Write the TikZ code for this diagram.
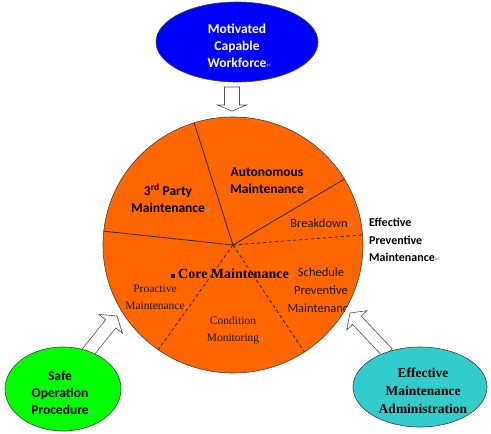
\documentclass[tikz,border=0pt]{standalone}
\usepackage{fontspec}
\setmainfont{Carlito}
\newfontfamily\serifF{Liberation Serif}
\newfontfamily\serifB{Liberation Serif}[UprightFont={* Bold}]
\newfontfamily\dvs{DejaVu Sans}
\usetikzlibrary{calc,shapes.geometric}
\definecolor{pieorange}{RGB}{255,102,0}
\definecolor{wfblue}{RGB}{0,0,255}
\definecolor{sopgreen}{RGB}{0,255,0}
\definecolor{emateal}{RGB}{51,204,204}
\definecolor{pmark}{RGB}{150,160,190}
\newcommand{\pmk}{\rlap{{\dvs\fontsize{6}{6}\selectfont\textcolor{pmark}{↵}}}}
\begin{document}
\begin{tikzpicture}[x=1pt,y=-1pt,
  shapeline/.style={draw=black!75, line width=0.6pt},
  spoke/.style={draw=black!85, line width=0.8pt},
  dspoke/.style={spoke, dash pattern=on 3.5pt off 2.5pt},
  blockarrow/.style={draw=black!70, fill=white, line width=0.6pt, line join=miter},
  cbtext/.style={font=\bfseries\fontsize{13.5}{17}\selectfont, align=center, inner sep=0pt},
  cbsmall/.style={font=\bfseries\fontsize{12}{17.5}\selectfont, align=left, inner sep=0pt},
  crtext/.style={font=\fontsize{12.5}{18}\selectfont, align=center, inner sep=0pt, text=black!90},
  tbtext/.style={font=\serifB\fontsize{13.5}{18}\selectfont, align=center, inner sep=0pt},
  trtext/.style={font=\serifF\fontsize{11.5}{17}\selectfont, align=center, inner sep=0pt, text=black!90},
]
\useasboundingbox (0,0) rectangle (491,434);
\fill[white] (0,0) rectangle (491,434);

% main pie
\node[ellipse, shapeline, fill=pieorange, minimum width=260pt, minimum height=256pt, inner sep=0pt] (pie) at (233,245) {};
\coordinate (hub) at (233,245);
\coordinate (sTop) at ($(hub)+(-107.4:130 and 128)$);
\coordinate (sUR) at ($(hub)+(-31:130 and 128)$);
\coordinate (sL) at ($(hub)+(-173.8:130 and 128)$);
\coordinate (dR) at ($(hub)+(-4.5:130 and 128)$);
\coordinate (dLL) at ($(hub)+(125.1:130 and 128)$);
\coordinate (dLR) at ($(hub)+(56.7:130 and 128)$);
\draw[spoke] (hub) -- (sTop);
\draw[spoke] (hub) -- (sUR);
\draw[spoke] (hub) -- (sL);
\draw[dspoke] (hub) -- (dR);
\draw[dspoke] (hub) -- (dLL);
\draw[dspoke] (hub) -- (dLR);

% texts inside pie
\node[cbtext] (tp) at (168,198) {3\textsuperscript{rd} Party\\Maintenance\pmk};
\node[cbtext] (am) at (267,181) {Autonomous\\Maintenance\pmk};
\node[crtext] (bd) at (319,223) {Breakdown\pmk};
\begin{scope}
\clip (233,245) ellipse [x radius=130, y radius=128];
\node[crtext] (sp) at (321,290) {Schedule\\Preventive\\Maintenance};
\end{scope}
\node[trtext] (pm) at (155,297) {Proactive\\Maintenance\pmk};
\node[trtext] (cm) at (233,330) {Condition\\Monitoring\pmk};
\node[tbtext, anchor=west, font=\serifB\fontsize{14}{18}\selectfont] (core) at (171,274) {\rule[1pt]{3.5pt}{3.5pt}\hspace{3.5pt}Core Maintenance\pmk};

% outside label
\node[cbsmall, anchor=west] (epm) at (369,240) {Effective\\Preventive\\Maintenance\pmk};

% hollow block arrows
\coordinate (tipT) at (232,111);
\begin{scope}[shift={(tipT)}, rotate=-90]
\draw[blockarrow] (0,0) -- (-6,14.5) -- (-6,7.5) -- (-24,7.5) -- (-24,-7.5) -- (-6,-7.5) -- (-6,-14.5) -- cycle;
\end{scope}
\coordinate (tipL) at (117,316);
\begin{scope}[shift={(tipL)}, rotate=51.3]
\draw[blockarrow] (0,0) -- (-10,15) -- (-10,6.5) -- (-55,6.5) -- (-55,-6.5) -- (-10,-6.5) -- (-10,-15) -- cycle;
\end{scope}
\coordinate (tipR) at (350,313);
\begin{scope}[shift={(tipR)}, rotate=133.4]
\draw[blockarrow] (0,0) -- (-10,14) -- (-10,6) -- (-55,6) -- (-55,-6) -- (-10,-6) -- (-10,-14) -- cycle;
\end{scope}

% outer ellipses
\node[ellipse, shapeline, fill=wfblue, minimum width=162pt, minimum height=80pt, inner sep=0pt] (wf) at (237,42) {};
\node[cbtext, text=white] (wft) at (237,46) {Motivated\\Capable\\Workforce\pmk};
\node[ellipse, shapeline, fill=sopgreen, minimum width=116pt, minimum height=84pt, inner sep=0pt] (sop) at (63,389) {};
\node[cbtext] (sopt) at (60,393) {Safe\\Operation\\Procedure\pmk};
\node[ellipse, shapeline, fill=emateal, minimum width=134pt, minimum height=80pt, inner sep=0pt] (ema) at (420,387) {};
\node[tbtext] (emat) at (423,391) {Effective\\Maintenance\\Administration\pmk};
\end{tikzpicture}
\end{document}
